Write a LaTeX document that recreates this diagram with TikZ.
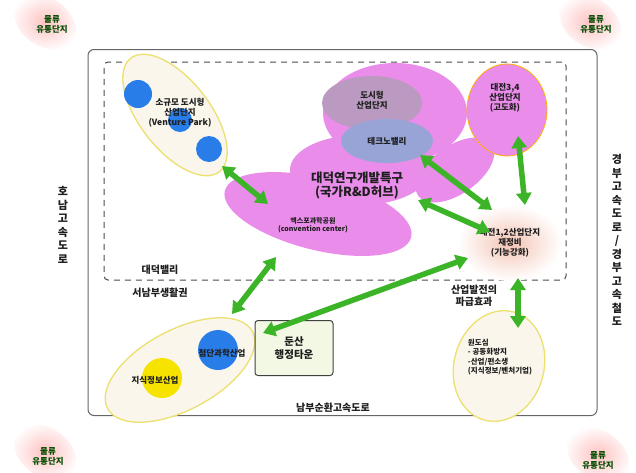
\documentclass[tikz,border=0pt]{standalone}
\usepackage{fontspec}
\setmainfont{Noto Sans CJK KR}
\usetikzlibrary{arrows.meta,shapes.geometric,shadings}
\definecolor{blobpink}{RGB}{234,140,234}
\definecolor{dosi}{RGB}{186,154,192}
\definecolor{techno}{RGB}{152,164,214}
\definecolor{cblue}{RGB}{40,125,232}
\definecolor{cyellow}{RGB}{246,228,0}
\definecolor{yline}{RGB}{236,224,110}
\definecolor{beige}{RGB}{250,246,236}
\definecolor{peach}{RGB}{244,196,180}
\definecolor{agreen}{RGB}{60,180,40}
\definecolor{boxfill}{RGB}{242,248,228}
\definecolor{txt}{RGB}{30,30,30}
\tikzset{
  lbl/.style={font=\fontsize{8.5}{10}\selectfont\bfseries, text=txt, align=center, inner sep=1pt},
  big/.style={font=\fontsize{12.5}{14}\selectfont\bfseries, text=txt, align=center, inner sep=1pt},
  vert/.style={font=\fontsize{11}{13.5}\selectfont\bfseries, text=txt, align=center, inner sep=0pt},
  logi/.style={font=\fontsize{8.5}{10}\selectfont\bfseries, text=black!70!green, align=center},
  garrow/.style={draw=agreen, line width=5.5pt, {Triangle[width=15pt,length=12pt]}-{Triangle[width=15pt,length=12pt]}},
  zone/.style={draw=yline, line width=1.3pt, fill=beige},
}
\begin{document}
\begin{tikzpicture}[x=1pt,y=-1pt]
\useasboundingbox (0,0) rectangle (636,472);
\fill[white] (0,0) rectangle (636,472);

% corner blobs
\foreach \cx/\cy in {45/22,590/22,45/452,598/455}{
  \shade[inner color=pink!80!red!60, outer color=white, rotate around={-35:(\cx,\cy)}]
    (\cx,\cy) ellipse (34 and 24);
}
\node[logi] (la) at (52,24) {물류\\유통단지};
\node[logi] (lb) at (596,24) {물류\\유통단지};
\node[logi] (lc) at (48,456) {물류\\유통단지};
\node[logi] (ld) at (598,460) {물류\\유통단지};

% outer frame
\node[draw=black!60, line width=1pt, rounded corners=6pt, minimum width=509pt, minimum height=366pt, inner sep=0pt] (frame) at (342.5,232.5) {};
% inner dashed frame
\node[draw=black!70, line width=1pt, dash pattern=on 6pt off 5pt, rounded corners=4pt, minimum width=462pt, minimum height=218pt, inner sep=0pt] (inner) at (335,171) {};

% road labels
\node[vert] (honam) at (63,225) {호\\남\\고\\속\\도\\로};
\node[vert] (gyeongbu) at (617,240) {경\\부\\고\\속\\도\\로\\/\\경\\부\\고\\속\\철\\도};
\node[font=\fontsize{10}{12}\selectfont\bfseries, text=txt] (nambu) at (333,408) {남부순환고속도로};

% big pink blob
\fill[blobpink] (395,113) ellipse (72 and 50);
\fill[blobpink, rotate around={-14:(318,214)}] (318,214) ellipse (96 and 36);
\fill[blobpink] (360,170) ellipse (70 and 35);
\fill[blobpink, rotate around={35:(455,170)}] (455,170) ellipse (45 and 24);
\shade[inner color=peach, outer color=white] (510,243) ellipse (52 and 38);
\fill[blobpink, draw=orange!60!yellow, line width=0.8pt] (507,110) ellipse (40 and 46);
\fill[dosi] (372,103) ellipse (50 and 27);
\fill[techno] (387,141) ellipse (46 and 22);

\node[lbl] (dosiL) at (372,100) {도시형\\산업단지};
\node[lbl] (technoL) at (387,141) {테크노밸리};
\node[lbl] (dj34) at (505,98) {대전3,4\\산업단지\\(고도화)};
\node[big] (daedeok) at (357,185) {대덕연구개발특구\\(국가R\&D허브)};
\node[font=\fontsize{7}{8.5}\selectfont\bfseries, text=txt, align=center] (expo) at (313,225) {엑스포과학공원\\(convention center)};
\node[lbl] (dj12) at (510,243) {대전1,2산업단지\\재정비\\(기능강화)};

% venture park
\draw[zone, rotate around={-52:(175,115)}] (175,115) ellipse (72 and 35);
\fill[cblue] (138,94) circle (14);
\fill[cblue] (180,120) circle (12);
\fill[cblue] (209,149) circle (13);
\node[lbl] (venture) at (180,113) {소규모 도시형\\산업단지\\(Venture Park)};

% zone labels
\node[lbl, font=\fontsize{10}{12}\selectfont\bfseries] (dv) at (160,270) {대덕밸리};
\node[lbl, font=\fontsize{10}{12}\selectfont\bfseries] (sn) at (160,293) {서남부생활권};
\node[lbl, font=\fontsize{10}{12}\selectfont\bfseries] (pa) at (474,296) {산업발전의\\파급효과};

% bottom-left zone
\draw[zone, rotate around={28:(180,370)}] (180,370) ellipse (82 and 40);
\fill[cblue] (218,350) circle (20);
\fill[cyellow] (162,378) circle (20);
\node[lbl] (cheomdan) at (222,353) {첨단과학산업};
\node[lbl] (jisik) at (155,380) {지식정보산업};

% dunsan box
\node[draw=black!75, line width=1pt, fill=boxfill, rounded corners=3pt, minimum width=78pt, minimum height=55pt, font=\fontsize{10.5}{13}\selectfont\bfseries, text=txt, align=center] (dunsan) at (294,348) {둔산\\행정타운};

% old downtown
\draw[zone, rotate around={-15:(499,366)}] (499,366) ellipse (45 and 56);
\node[font=\fontsize{7.5}{9.5}\selectfont\bfseries, text=txt, align=left] (wondo) at (500,357) {원도심\\- 공동화방지\\-산업/편소생\\(지식정보/벤처기업)};

% arrow end points
\coordinate (v1) at (222,166);
\coordinate (v2) at (268,204);
\coordinate (b1) at (232,314);
\coordinate (b2) at (276,257);
\coordinate (c1) at (263,333);
\coordinate (c2) at (468,258);
\coordinate (d1) at (420,155);
\coordinate (d2) at (492,210);
\coordinate (e1) at (418,200);
\coordinate (e2) at (490,232);
\coordinate (f1) at (518,136);
\coordinate (f2) at (525,205);
\coordinate (g1) at (518,278);
\coordinate (g2) at (518,328);

\draw[garrow] (v1) -- (v2);
\draw[garrow] (b1) -- (b2);
\draw[garrow] (c1) -- (c2);
\draw[garrow] (d1) -- (d2);
\draw[garrow] (e1) -- (e2);
\draw[garrow] (f1) -- (f2);
\draw[garrow] (g1) -- (g2);
\end{tikzpicture}
\end{document}
